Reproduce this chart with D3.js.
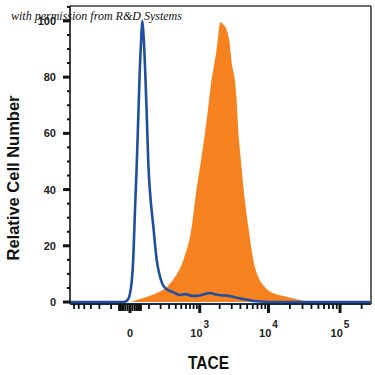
<!DOCTYPE html>
<html>
<head>
<meta charset="utf-8">
<script src="https://cdn.jsdelivr.net/npm/d3@7/dist/d3.min.js"></script>
<style>
  body { margin: 0; background: #fff; }
  svg { display: block; }
  .tick-label { font-family: "Liberation Sans", Arial, sans-serif; font-weight: bold; font-size: 11px; fill: #222; }
</style>
</head>
<body>
<div class="vis-histogram"></div>
<script>
// isotype control (blue line): fluorescence value, relative cell number
const controlX = [-700, -100, -30, -12, 0, 13, 21, 29, 37, 45, 52, 58, 65, 74, 85, 96, 108, 133, 162, 194, 248, 356, 476, 600, 750, 900, 1100, 1440, 1700, 2030, 2500, 3130, 3700, 4360, 5500, 7600, 14500, 270000];
const controlY = [0, 0, 0, 0.5, 3, 15, 33, 49, 67, 84, 94, 100, 95, 84, 67, 49, 39, 27, 15, 9, 5, 3.5, 2.5, 2.8, 2.2, 2.2, 2.6, 3.2, 2.8, 2.4, 2.3, 1.9, 1.4, 1.1, 0.6, 0.2, 0, 0];

// TACE stained (orange fill)
const taceX = [0, 12, 64, 162, 269, 387, 542, 746, 874, 1010, 1137, 1308, 1473, 1650, 1811, 1930, 2026, 2300, 2539, 2771, 3001, 3349, 3544, 3737, 4045, 4510, 5192, 6117, 7200, 8952, 11712, 18060, 27720, 34700, 45000];
const taceY = [0, 0.3, 1.4, 3.2, 5.3, 8.9, 14.9, 26.7, 38.8, 48, 56, 66.5, 77, 84.3, 90.3, 96, 99.5, 98.5, 96.8, 93, 85, 78.4, 71.2, 60.6, 51, 38.8, 26.7, 14.9, 8.9, 5.3, 3.1, 1.9, 0.7, 0.2, 0];

const yMajor = [0, 20, 40, 60, 80, 100];
const yMinor = [5, 10, 15, 25, 30, 35, 45, 50, 55, 65, 70, 75, 85, 90, 95, 105];
const xMajor = [0, 1e3, 1e4, 1e5];
const xMajorLabels = [null, 3, 4, 5];
const xMinor = [-600, -500, -400, -300, -200, -100, 100, 200, 300, 400, 500, 600, 700, 800, 900,
    2e3, 3e3, 4e3, 5e3, 6e3, 7e3, 8e3, 9e3, 2e4, 3e4, 4e4, 5e4, 6e4, 7e4, 8e4, 9e4, 2e5];
const xNearZero = [-50, -40, -30, -20, -10, 10, 20, 30, 40, 50];

const draw = (outerWidth, outerHeight) => {
    const margin = {top: 6, right: 4, bottom: 71, left: 70};
    const width = outerWidth - margin.left - margin.right;
    const height = outerHeight - margin.top - margin.bottom;

    const svg = d3.select('.vis-histogram')
        .append('svg')
        .attr('width', outerWidth)
        .attr('height', outerHeight);

    const g = svg.append('g')
        .attr('transform', 'translate(' + margin.left + ',' + margin.top + ')');

    const x = d3.scaleSymlog()
        .constant(120)
        .domain([-700, 270000])
        .range([0, width]);

    const y = d3.scaleLinear()
        .domain([-0.7, 105.3])
        .range([height, 0]);

    const tace = taceX.map((v, i) => ({x: v, y: taceY[i]}));
    const control = controlX.map((v, i) => ({x: v, y: controlY[i]}));

    const area = d3.area()
        .x(d => x(d.x))
        .y0(y(0))
        .y1(d => y(d.y))
        .curve(d3.curveMonotoneX);

    const line = d3.line()
        .x(d => x(d.x))
        .y(d => y(d.y))
        .curve(d3.curveMonotoneX);

    g.append('path')
        .datum(tace)
        .attr('d', area)
        .attr('fill', '#f5821f');

    g.append('path')
        .datum(control)
        .attr('d', line)
        .attr('fill', 'none')
        .attr('stroke', '#1f4f9e')
        .attr('stroke-width', 2.6)
        .attr('stroke-linejoin', 'round');

    // frame
    g.append('line').attr('x1', 0).attr('x2', width).attr('y1', 0).attr('y2', 0)
        .attr('stroke', '#6b6b6b').attr('stroke-width', 2);
    g.append('line').attr('x1', width).attr('x2', width).attr('y1', 0).attr('y2', height)
        .attr('stroke', '#555').attr('stroke-width', 1.8);
    g.append('line').attr('x1', 0).attr('x2', 0).attr('y1', 0).attr('y2', height)
        .attr('stroke', '#111').attr('stroke-width', 1.6);
    g.append('line').attr('x1', 0).attr('x2', width).attr('y1', height).attr('y2', height)
        .attr('stroke', '#1a2a4a').attr('stroke-width', 2.2);

    // y ticks
    g.selectAll('.ymin').data(yMinor).enter().append('line')
        .attr('x1', -3).attr('x2', 0)
        .attr('y1', d => y(d)).attr('y2', d => y(d))
        .attr('stroke', '#111').attr('stroke-width', 2);
    g.selectAll('.ymaj').data(yMajor).enter().append('line')
        .attr('x1', -7).attr('x2', 0)
        .attr('y1', d => y(d)).attr('y2', d => y(d))
        .attr('stroke', '#111').attr('stroke-width', 3);
    g.selectAll('.ylab').data(yMajor).enter().append('text')
        .attr('class', 'tick-label')
        .attr('x', -14)
        .attr('y', d => y(d) + 4)
        .attr('text-anchor', 'end')
        .text(d => d);

    // x ticks
    g.selectAll('.xnz').data(xNearZero).enter().append('line')
        .attr('x1', d => x(d)).attr('x2', d => x(d))
        .attr('y1', height).attr('y2', height + 7)
        .attr('stroke', '#111').attr('stroke-width', 2);
    g.selectAll('.xmin').data(xMinor).enter().append('line')
        .attr('x1', d => x(d)).attr('x2', d => x(d))
        .attr('y1', height).attr('y2', height + 5)
        .attr('stroke', '#111').attr('stroke-width', 1.8);
    g.selectAll('.xmaj').data(xMajor).enter().append('line')
        .attr('x1', d => x(d)).attr('x2', d => x(d))
        .attr('y1', height).attr('y2', height + 9)
        .attr('stroke', '#111').attr('stroke-width', 3);

    const xl = g.selectAll('.xlab').data(xMajor).enter().append('text')
        .attr('class', 'tick-label')
        .attr('x', d => x(d))
        .attr('y', height + 33)
        .attr('text-anchor', 'middle');
    xl.append('tspan').text((d, i) => xMajorLabels[i] === null ? '0' : '10');
    xl.filter((d, i) => xMajorLabels[i] !== null)
        .append('tspan')
        .attr('dy', -9)
        .attr('dx', 1)
        .style('font-size', '10px')
        .text(d => xMajorLabels[xMajor.indexOf(d)]);

    // axis titles
    svg.append('text')
        .attr('x', 188)
        .attr('y', 369)
        .attr('textLength', 41)
        .attr('lengthAdjust', 'spacingAndGlyphs')
        .style('font-family', '"Liberation Sans", Arial, sans-serif')
        .style('font-weight', 'bold')
        .style('font-size', '18px')
        .attr('fill', '#111')
        .text('TACE');

    svg.append('text')
        .attr('transform', 'translate(19,' + 178 + ') rotate(-90)')
        .attr('text-anchor', 'middle')
        .style('font-family', '"Liberation Sans", Arial, sans-serif')
        .style('font-weight', 'bold')
        .style('font-size', '16.5px')
        .attr('fill', '#111')
        .text('Relative Cell Number');

    svg.append('text')
        .attr('x', 11)
        .attr('y', 20)
        .style('font-family', '"Liberation Serif", "DejaVu Serif", serif')
        .style('font-style', 'italic')
        .style('font-size', '12px')
        .attr('fill', '#111')
        .text('with permission from R&D Systems');
};

draw(375, 375);
</script>
</body>
</html>
